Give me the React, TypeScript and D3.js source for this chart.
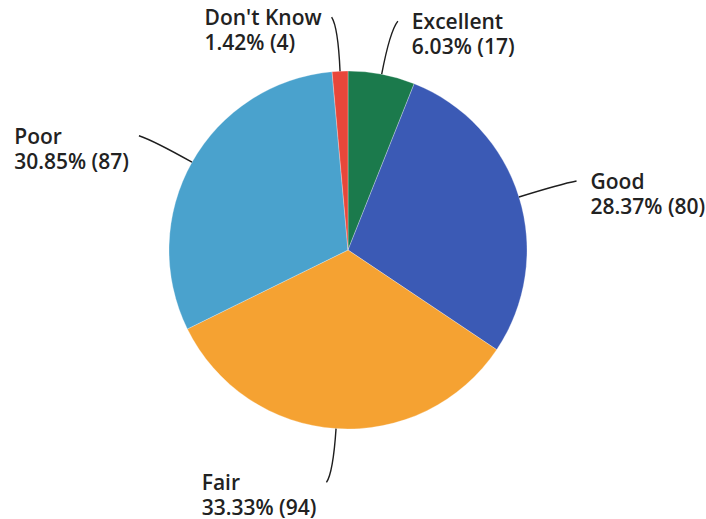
import { useEffect, useRef } from 'react';
import * as d3 from 'd3';

const categories = ['Excellent', 'Good', 'Fair', 'Poor', "Don't Know"];
const counts = [17, 80, 94, 87, 4];
const percents = ['6.03%', '28.37%', '33.33%', '30.85%', '1.42%'];
const colors = ['#1b7a4c', '#3b5ab5', '#f5a232', '#4aa2cd', '#e8473a'];
// which side of the leader line the label sits on (1 = right, -1 = left)
const labelSide = [1, 1, -1, -1, -1];

export default function App() {
  const svgRef = useRef<SVGSVGElement>(null);

  useEffect(() => {
    if (!svgRef.current) return;
    const width = 706;
    const height = 519;
    const cx = 348;
    const cy = 250;
    const r = 179;

    const svg = d3.select(svgRef.current);
    svg.selectAll('*').remove();
    svg.attr('viewBox', `0 0 ${width} ${height}`);

    const data = categories.map((c, i) => ({ name: c, value: counts[i], pct: percents[i], color: colors[i], side: labelSide[i] }));

    const pie = d3.pie<typeof data[0]>().value(d => d.value).sort(null);
    const arcs = pie(data);
    const arc = d3.arc<d3.PieArcDatum<typeof data[0]>>().innerRadius(0).outerRadius(r);

    const g = svg.append('g').attr('transform', `translate(${cx},${cy})`);

    g.selectAll('path.slice')
      .data(arcs)
      .join('path')
      .attr('class', 'slice')
      .attr('d', arc)
      .attr('fill', d => d.data.color)
      .attr('stroke', '#ffffff')
      .attr('stroke-opacity', 0.35)
      .attr('stroke-width', 0.8);

    const polar = (a: number, rad: number): [number, number] => [Math.sin(a) * rad, -Math.cos(a) * rad];

    arcs.forEach(d => {
      const mid = (d.startAngle + d.endAngle) / 2;
      const p0 = polar(mid, r);
      const c1 = polar(mid, r + 44);
      const pe = polar(mid, r + 54);
      const p3: [number, number] = [pe[0] + d.data.side * 6, pe[1]];

      const path = d3.path();
      path.moveTo(p0[0], p0[1]);
      path.quadraticCurveTo(c1[0], c1[1], p3[0], p3[1]);
      g.append('path')
        .attr('d', path.toString())
        .attr('fill', 'none')
        .attr('stroke', '#1e1e1e')
        .attr('stroke-width', 1.4);

      const text = g.append('text')
        .attr('font-family', '"Open Sans", sans-serif')
        .attr('font-weight', 600)
        .attr('font-size', 21)
        .attr('fill', '#222');
      text.append('tspan').attr('x', 0).attr('y', 0).text(d.data.name);
      text.append('tspan').attr('x', 0).attr('y', 25).text(`${d.data.pct} (${d.data.value})`);

      const bw = (text.node() as SVGTextElement).getBBox().width;
      const tx = d.data.side > 0 ? p3[0] + 14 : p3[0] - 10 - bw;
      const ty = p3[1] + 8;
      text.attr('transform', `translate(${tx},${ty})`);
    });
  }, []);

  return (
    <svg
      ref={svgRef}
      width={706}
      height={519}
      style={{ position: 'absolute', left: 0, top: 0, background: '#fff' }}
    />
  );
}
